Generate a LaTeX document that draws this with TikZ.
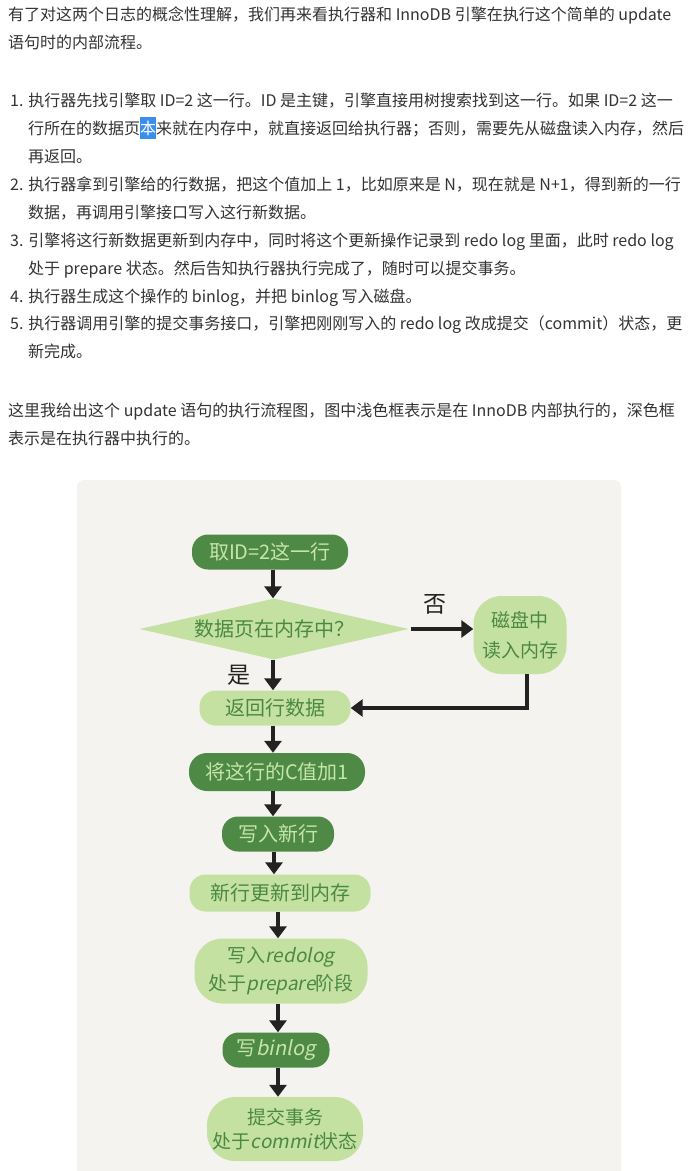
\documentclass[tikz,border=0pt]{standalone}
\usepackage{fontspec}
\setmainfont{Noto Sans CJK SC}
\newfontfamily\slantfont[FakeSlant=0.2]{Noto Sans CJK SC}
\usetikzlibrary{shapes.geometric,arrows.meta}

\definecolor{bodytext}{HTML}{333333}
\definecolor{panel}{HTML}{F4F3EF}
\definecolor{darkg}{HTML}{4E8A46}
\definecolor{lightg}{HTML}{C5E1A1}
\definecolor{darkgtext}{HTML}{C6E5A8}
\definecolor{lightgtext}{HTML}{4B8942}
\definecolor{selblue}{HTML}{3A8EF0}
\definecolor{ink}{HTML}{222222}

% selected (highlighted) character in the paragraph
\newcommand{\selmark}[1]{{\setlength{\fboxsep}{0pt}\colorbox{selblue}{\rule[-5pt]{0pt}{22pt}\textcolor{white}{#1}}}}
\newcommand{\lat}[1]{{\slantfont #1}}

\begin{document}
\begin{tikzpicture}[x=1pt,y=-1pt,
  para/.style={anchor=base west, inner sep=0pt, text=bodytext, font=\fontsize{16}{20}\selectfont},
  darkbox/.style={fill=darkg, text=darkgtext, rounded corners=16pt, minimum height=35pt, inner sep=0pt, font=\fontsize{20}{22}\selectfont},
  lightbox/.style={fill=lightg, text=lightgtext, rounded corners=16pt, minimum height=35pt, inner sep=0pt, font=\fontsize{20}{22}\selectfont},
  lightblob/.style={fill=lightg, text=lightgtext, rounded corners=28pt, inner sep=0pt, align=center},
  choice/.style={diamond, fill=lightg, text=lightgtext, inner sep=0pt, aspect=4.4, font=\fontsize{20}{22}\selectfont},
  answer/.style={text=ink, inner sep=0pt, font=\fontsize{23}{24}\selectfont},
  arr/.style={draw=ink, line width=3.6pt, -{Triangle[length=12pt,width=17pt]}},
]
\useasboundingbox (0,0) rectangle (693,1171);
\fill[white] (0,0) rectangle (693,1171);

% ---- article text ----
\node[para] (l1) at (8,20) {有了对这两个日志的概念性理解，我们再来看执行器和 InnoDB 引擎在执行这个简单的 update};
\node[para] (l2) at (8,48) {语句时的内部流程。};
\node[para] (i1a) at (10,106) {1. 执行器先找引擎取 ID=2 这一行。ID 是主键，引擎直接用树搜索找到这一行。如果 ID=2 这一};
\node[para] (i1b) at (28,134) {行所在的数据页\selmark{本}来就在内存中，就直接返回给执行器；否则，需要先从磁盘读入内存，然后};
\node[para] (i1c) at (28,162) {再返回。};
\node[para] (i2a) at (10,190) {2. 执行器拿到引擎给的行数据，把这个值加上 1，比如原来是 N，现在就是 N+1，得到新的一行};
\node[para] (i2b) at (28,218) {数据，再调用引擎接口写入这行新数据。};
\node[para] (i3a) at (10,246) {3. 引擎将这行新数据更新到内存中，同时将这个更新操作记录到 redo log 里面，此时 redo log};
\node[para] (i3b) at (28,274) {处于 prepare 状态。然后告知执行器执行完成了，随时可以提交事务。};
\node[para] (i4a) at (10,302) {4. 执行器生成这个操作的 binlog，并把 binlog 写入磁盘。};
\node[para] (i5a) at (10,329) {5. 执行器调用引擎的提交事务接口，引擎把刚刚写入的 redo log 改成提交（commit）状态，更};
\node[para] (i5b) at (28,357) {新完成。};
\node[para] (p1) at (8,416) {这里我给出这个 update 语句的执行流程图，图中浅色框表示是在 InnoDB 内部执行的，深色框};
\node[para] (p2) at (8,444) {表示是在执行器中执行的。};

% ---- flow chart panel ----
\fill[panel, rounded corners=7pt] (77,480) rectangle (621,1190);

\node[darkbox, minimum width=156pt] (s1) at (270,552) {取ID=2这一行};
\node[choice, minimum width=269pt, minimum height=61pt] (s2) at (274,629) {数据页在内存中？};
\node[lightblob, minimum width=93pt, minimum height=78pt, font=\fontsize{19}{30}\selectfont] (disk) at (520,635) {磁盘中\\读入内存};
\node[lightbox, minimum width=151pt] (s3) at (275,708) {返回行数据};
\node[darkbox, minimum width=176pt, minimum height=38pt, rounded corners=18pt] (s4) at (277,772) {将这行的C值加1};
\node[darkbox, minimum width=112pt] (s5) at (278,834) {写入新行};
\node[lightbox, minimum width=181pt, minimum height=37pt] (s6) at (280,893) {新行更新到内存};
\node[lightblob, minimum width=173pt, minimum height=65pt, font=\fontsize{19}{28}\selectfont] (s7) at (281,971) {写入\lat{redolog}\\处于\lat{prepare}阶段};
\node[darkbox, minimum width=107pt] (s8) at (276,1050) {写\lat{binlog}};
\node[lightblob, minimum width=156pt, minimum height=64pt, font=\fontsize{19}{24}\selectfont] (s9) at (285,1129) {提交事务\\处于\lat{commit}状态};

\node[answer] (no) at (435,604) {否};
\node[answer] (yes) at (239,675) {是};

% ---- connectors ----
\draw[arr] ([xshift=3pt]s1.south) -- ([xshift=3pt]s1.south |- s2.north);
\draw[arr] ([xshift=2pt]s2.east) -- (disk.west |- s2.east);
\draw[arr] ([xshift=-1pt]s2.south) -- ([xshift=-1pt]s2.south |- s3.north);
\draw[arr] ([xshift=7pt]disk.south) |- (s3.east);
\draw[arr] ([xshift=-2pt]s3.south) -- ([xshift=-2pt]s3.south |- s4.north);
\draw[arr] ([xshift=-4pt]s4.south) -- ([xshift=-4pt]s4.south |- s5.north);
\draw[arr] ([xshift=-4pt]s5.south) -- ([xshift=-4pt]s5.south |- s6.north);
\draw[arr] ([xshift=-2pt]s6.south) -- ([xshift=-2pt]s6.south |- s7.north);
\draw[arr] ([xshift=-3pt]s7.south) -- ([xshift=-3pt]s7.south |- s8.north);
\draw[arr] ([xshift=2pt]s8.south) -- ([xshift=2pt]s8.south |- s9.north);
\end{tikzpicture}
\end{document}
